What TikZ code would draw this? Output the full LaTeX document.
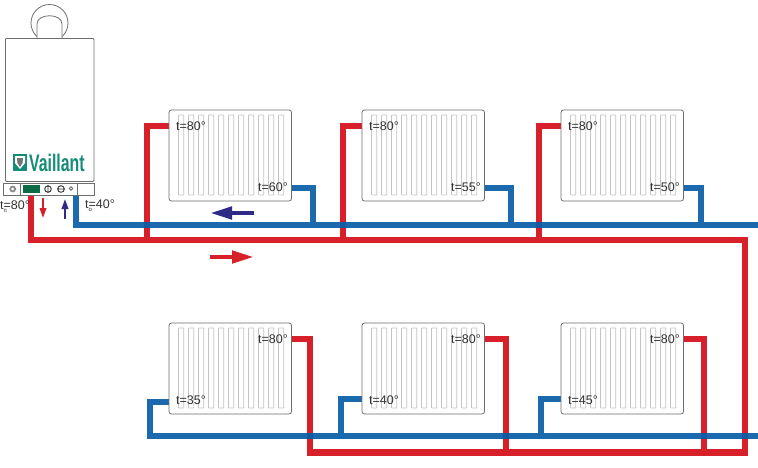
\documentclass[tikz,border=0pt]{standalone}
\usepackage{fontspec}
\setmainfont{Liberation Sans}
\usetikzlibrary{arrows.meta}
\definecolor{pipered}{HTML}{D8202A}
\definecolor{pipeblue}{HTML}{0A5FA8}
\definecolor{navyarrow}{HTML}{2E2A86}
\definecolor{logoteal}{HTML}{148C76}
\definecolor{panelgreen}{HTML}{0B6B45}
\definecolor{outline}{HTML}{6E6E6E}
\definecolor{fin}{HTML}{C4C4C4}
\tikzset{
  radbox/.style={draw=outline,line width=.8pt,fill=white,rounded corners=2.5pt,minimum width=122.5pt,minimum height=91pt,inner sep=0pt,outer sep=0pt},
  redpipe/.style={draw=pipered,line width=6.8pt,line join=miter},
  bluepipe/.style={draw=pipeblue,line width=6.8pt,line join=miter,opacity=.93},
  lbl/.style={font=\fontsize{12.5}{12.5}\selectfont,text=black!80,inner sep=0pt},
  boilerline/.style={draw=outline,line width=.8pt},
  flowred/.style={draw=pipered,line width=4.5pt,-{Triangle[length=22pt,width=12pt]}},
  flowblue/.style={draw=navyarrow,line width=4.5pt,-{Triangle[length=22pt,width=12pt]}},
  smallred/.style={draw=pipered,line width=2pt,-{Triangle[length=10pt,width=6.5pt]}},
  smallblue/.style={draw=navyarrow,line width=2pt,-{Triangle[length=10pt,width=6.5pt]}},
}
\newcommand{\radiator}[3]{%
  \node[radbox,anchor=north west] (#1) at (#2,#3) {};
  \foreach \k in {0,...,10}{
    \draw[fin,line width=.7pt,rounded corners=.5pt] ({#2+9.5+10*\k},{#3+5}) rectangle ({#2+14.8+10*\k},{#3+85});
  }
}
\newcommand{\subt}[1]{t\rlap{\raisebox{-3pt}{\fontsize{6}{6}\selectfont #1}}}
\begin{document}
\begin{tikzpicture}[x=1pt,y=-1pt]
\useasboundingbox (0,0) rectangle (758,467);
\fill[white] (0,0) rectangle (758,467);
% junction coordinates
\coordinate (boilerRed) at (31,195);
\coordinate (boilerBlue) at (76,195);
\coordinate (redEnd) at (745,240);
\coordinate (blueEnd) at (758,225);
\coordinate (blueEndLow) at (758,436);
% red pipes
\draw[redpipe] (boilerRed) |- (redEnd) -- (745,452.5) -- (310,452.5) -- (310,339) -- (291,339);
\draw[redpipe] (169,126) -| (147,240);
\draw[redpipe] (362,126) -| (343,240);
\draw[redpipe] (561,126) -| (539,240);
\draw[redpipe] (484,339) -| (506,452.5);
\draw[redpipe] (683,339) -| (704,452.5);
% blue pipes
\draw[bluepipe] (boilerBlue) |- (blueEnd)
  (291,188) -| (313,225)
  (484,188) -| (511,225)
  (683,188) -| (701,225)
  (169,402) -| (150,436) -- (blueEndLow)
  (362,399) -| (341,436)
  (561,399) -| (541,436);
% radiators
\radiator{r1}{169}{110}
\radiator{r2}{362}{110}
\radiator{r3}{561}{110}
\radiator{r4}{169}{323}
\radiator{r5}{362}{323}
\radiator{r6}{561}{323}
% labels
\node[lbl,anchor=west] (l1) at (176,126) {t=80°};
\node[lbl,anchor=west] (l2) at (369,126) {t=80°};
\node[lbl,anchor=west] (l3) at (568,126) {t=80°};
\node[lbl,anchor=east] (l4) at (288,187) {t=60°};
\node[lbl,anchor=east] (l5) at (481,187) {t=55°};
\node[lbl,anchor=east] (l6) at (680,187) {t=50°};
\node[lbl,anchor=east] (l7) at (288,339) {t=80°};
\node[lbl,anchor=east] (l8) at (481,339) {t=80°};
\node[lbl,anchor=east] (l9) at (680,339) {t=80°};
\node[lbl,anchor=west] (l10) at (176,400) {t=35°};
\node[lbl,anchor=west] (l11) at (369,400) {t=40°};
\node[lbl,anchor=west] (l12) at (568,400) {t=45°};
% flow arrows
\coordinate (fa) at (254,213); \coordinate (fb) at (210,213);
\draw[flowblue] (fa) -- (fb);
\coordinate (fc) at (210,257); \coordinate (fd) at (254,257);
\draw[flowred] (fc) -- (fd);
\coordinate (sa) at (43,198); \coordinate (sb) at (43,218);
\draw[smallred] (sa) -- (sb);
\coordinate (sc) at (65,219); \coordinate (sd) at (65,199);
\draw[smallblue] (sc) -- (sd);
% flue
\draw[boilerline] (49.5,23) circle (18.5);
\draw[boilerline,fill=white] (37,40) -- (37,24) .. controls (37,13) and (62,13) .. (62,24) -- (62,40);
% boiler
\node[draw=outline,line width=.8pt,fill=white,rounded corners=1pt,minimum width=88.5pt,minimum height=143pt,inner sep=0pt,anchor=north west] (boiler) at (5,38) {};
\node[draw=outline,line width=.8pt,fill=white,minimum width=91pt,minimum height=12.5pt,inner sep=0pt,anchor=north west] (panel) at (3,182.6) {};
\draw[boilerline] (20,183) -- (20,195) (77,183) -- (77,195);
\fill[panelgreen] (23,184.5) rectangle (40,193);
\fill[black!45] (12.7,189) circle (3.4);
\fill[white] (12.7,189) circle (1.5);
\draw[black!80,line width=.9pt] (48,189) circle (3.3) (48,184.8) -- (48,193.2);
\draw[black!80,line width=.9pt] (61,189) circle (3.3) (56.8,189) -- (65.2,189);
\draw[outline,line width=.8pt] (71,188.5) circle (1.7);
% logo
\fill[logoteal] (13,154) rectangle (27,171);
\fill[white] (15,156) -- (25,156) -- (25,163) -- (20,169) -- (15,163) -- cycle;
\fill[black!55] (17,158) -- (23,158) -- (22.5,163) -- (20,167) -- (17.5,163) -- cycle;
\node[font=\bfseries\fontsize{24}{24}\selectfont,text=logoteal,inner sep=0pt,anchor=west,xscale=.66] (logo) at (29,162.5) {Vaillant};
% boiler labels
\node[lbl,anchor=west] (tp) at (0,207) {\subt{п}=80°};
\node[lbl,anchor=west] (to) at (85,206) {\subt{о}=40°};
\end{tikzpicture}
\end{document}
